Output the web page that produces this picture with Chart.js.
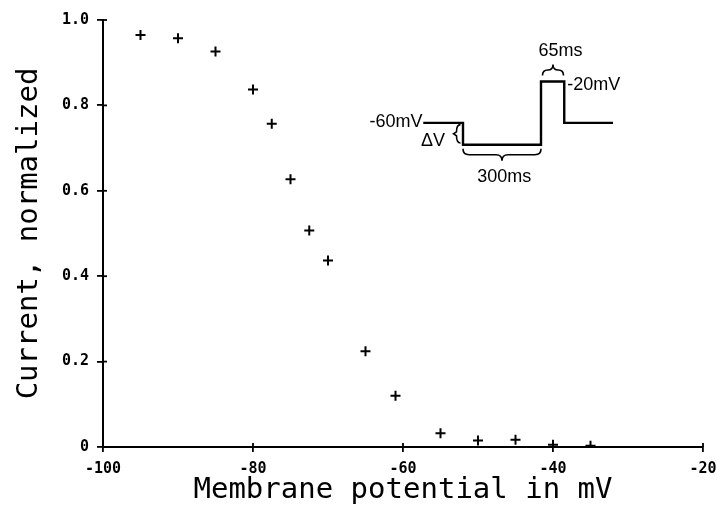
<!DOCTYPE html>
<html>
<head>
<meta charset="utf-8">
<script src="https://cdn.jsdelivr.net/npm/chart.js@4/dist/chart.umd.min.js"></script>
<style>
  html, body { margin: 0; padding: 0; background: #fff; }
  #wrap { width: 717px; height: 508px; }
</style>
</head>
<body>
<div id="wrap"><canvas id="canvas"></canvas></div>
<script>
// measured points: membrane potential (mV) vs normalized current
const potentials = [-95, -90, -85, -80, -77.5, -75, -72.5, -70, -65, -61, -55, -50, -45, -40, -35];
const currents = [0.965, 0.957, 0.926, 0.837, 0.757, 0.627, 0.507, 0.437, 0.224, 0.12, 0.032, 0.015, 0.017, 0.005, 0.003];

// inset: voltage protocol drawn in plot units
const protocolX = [-57.3, -52, -52, -41.6, -41.6, -38.5, -38.5, -32];
const protocolY = [0.759, 0.759, 0.708, 0.708, 0.856, 0.856, 0.759, 0.759];

const xTicks = [-100, -80, -60, -40, -20];
const yTicks = [0, 0.2, 0.4, 0.6, 0.8, 1.0];

const insetLabels = [
    { text: "-60mV", x: -57.4, y: 0.762, align: "right" },
    { text: "ΔV", x: -54.4, y: 0.716, align: "right" },
    { text: "-20mV", x: -38.1, y: 0.848, align: "left" },
    { text: "65ms", x: -39.0, y: 0.927, align: "center" },
    { text: "300ms", x: -46.5, y: 0.632, align: "center" },
];

const insetPlugin = {
    id: "inset",
    afterDatasetsDraw(chart) {
        const ctx = chart.ctx;
        const xs = chart.scales.x;
        const ys = chart.scales.y;
        const px = (v) => xs.getPixelForValue(v);
        const py = (v) => ys.getPixelForValue(v);

        ctx.save();
        ctx.strokeStyle = "#000";
        ctx.fillStyle = "#000";
        ctx.lineWidth = 1.8;

        // inner half of tick marks
        yTicks.forEach((t) => {
            ctx.beginPath();
            ctx.moveTo(xs.left, py(t));
            ctx.lineTo(xs.left + 4, py(t));
            ctx.stroke();
        });
        xTicks.forEach((t) => {
            ctx.beginPath();
            ctx.moveTo(px(t), ys.bottom);
            ctx.lineTo(px(t), ys.bottom - 4);
            ctx.stroke();
        });

        // braces
        ctx.lineWidth = 1.6;
        hBrace(ctx, px(-52), px(-41.6), py(0.708) + 4, 12);
        hBrace(ctx, px(-41.4), px(-38.6), py(0.856) - 6, -11);

        // small brace for delta V
        const bx = px(-52.6);
        const b1 = py(0.755), b2 = py(0.712);
        ctx.beginPath();
        ctx.moveTo(bx + 2, b1);
        ctx.quadraticCurveTo(bx - 2, b1, bx - 2, (b1 + b2) / 2 - 2);
        ctx.lineTo(bx - 5, (b1 + b2) / 2);
        ctx.lineTo(bx - 2, (b1 + b2) / 2 + 2);
        ctx.quadraticCurveTo(bx - 2, b2, bx + 2, b2);
        ctx.stroke();

        ctx.font = "18px 'Liberation Sans', sans-serif";
        ctx.textBaseline = "middle";
        insetLabels.forEach((l) => {
            ctx.textAlign = l.align;
            ctx.fillText(l.text, px(l.x), py(l.y));
        });
        ctx.restore();
    },
};

function hBrace(ctx, x1, x2, y0, h) {
    const xm = (x1 + x2) / 2;
    const r = Math.min(Math.abs(h) / 2, (x2 - x1) / 4);
    const ym = y0 + h / 2;
    ctx.beginPath();
    ctx.moveTo(x1, y0);
    ctx.quadraticCurveTo(x1, ym, x1 + r, ym);
    ctx.lineTo(xm - r, ym);
    ctx.quadraticCurveTo(xm, ym, xm, y0 + h);
    ctx.quadraticCurveTo(xm, ym, xm + r, ym);
    ctx.lineTo(x2 - r, ym);
    ctx.quadraticCurveTo(x2, ym, x2, y0);
    ctx.stroke();
}

const config = {
    type: "scatter",
    data: {
        datasets: [
            {
                label: "Current",
                data: potentials.map((v, i) => ({ x: v, y: currents[i] })),
                pointStyle: "cross",
                radius: 5,
                borderWidth: 2,
                borderColor: "#000",
                backgroundColor: "#000",
            },
            {
                label: "Protocol",
                data: protocolX.map((v, i) => ({ x: v, y: protocolY[i] })),
                showLine: true,
                radius: 0,
                borderWidth: 2.4,
                borderColor: "#000",
            },
        ],
    },
    options: {
        animation: false,
        responsive: true,
        maintainAspectRatio: false,
        layout: {
            padding: { left: 0, right: 14, top: 20, bottom: 0 },
        },
        plugins: {
            legend: { display: false },
            tooltip: { enabled: false },
        },
        scales: {
            x: {
                min: -100,
                max: -20,
                afterBuildTicks: (scale) => {
                    scale.ticks = xTicks.map((v) => ({ value: v }));
                },
                afterFit: (scale) => {
                    scale.height = 61;
                    scale.paddingLeft = 0;
                    scale.paddingRight = 0;
                },
                border: { color: "#000", width: 2 },
                grid: {
                    drawOnChartArea: false,
                    color: "#000",
                    lineWidth: 1.8,
                    tickLength: 5,
                },
                ticks: {
                    color: "#000",
                    padding: 8,
                    maxRotation: 0,
                    font: { family: "'DejaVu Sans Mono', monospace", size: 15, weight: "bold" },
                },
                title: {
                    display: true,
                    text: "Membrane potential in mV",
                    color: "#000",
                    padding: 0,
                    font: { family: "'DejaVu Sans Mono', monospace", size: 29, weight: "normal" },
                },
            },
            y: {
                min: 0,
                max: 1,
                afterBuildTicks: (scale) => {
                    scale.ticks = yTicks.map((v) => ({ value: v }));
                },
                afterFit: (scale) => {
                    scale.width = 103;
                    scale.paddingTop = 0;
                    scale.paddingBottom = 0;
                },
                border: { color: "#000", width: 2 },
                grid: {
                    drawOnChartArea: false,
                    color: "#000",
                    lineWidth: 1.8,
                    tickLength: 6,
                },
                ticks: {
                    color: "#000",
                    padding: 8,
                    callback: (value) => (value === 0 ? "0" : value.toFixed(1)),
                    font: { family: "'DejaVu Sans Mono', monospace", size: 15, weight: "bold" },
                },
                title: {
                    display: true,
                    text: "Current, normalized",
                    color: "#000",
                    padding: 0,
                    font: { family: "'DejaVu Sans Mono', monospace", size: 29, weight: "normal", lineHeight: 2 },
                },
            },
        },
    },
    plugins: [insetPlugin],
};

new Chart(document.getElementById("canvas"), config);
</script>
</body>
</html>
